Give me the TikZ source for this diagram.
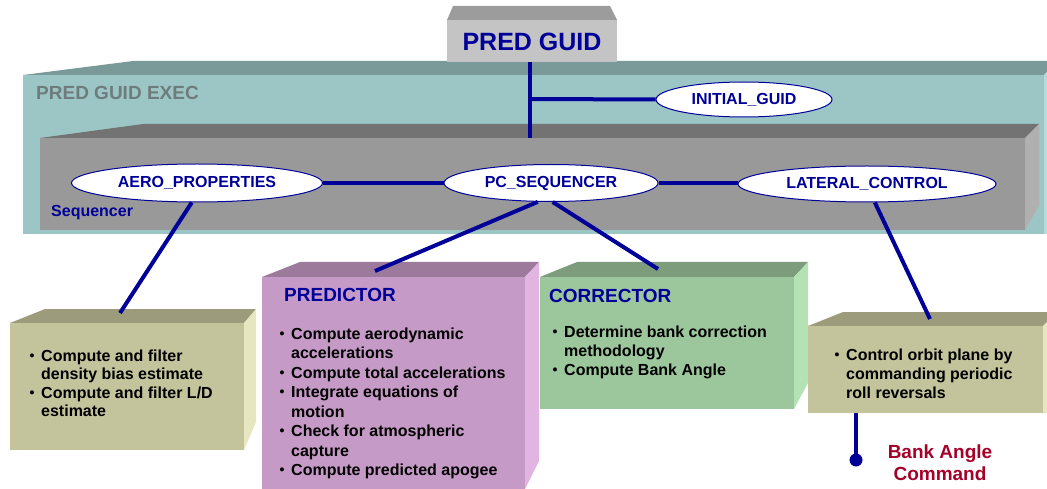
\documentclass[tikz,border=0pt]{standalone}
\usepackage{fontspec}
\setmainfont{Liberation Sans}
\usetikzlibrary{shapes.geometric}
\definecolor{navy}{HTML}{000099}
\definecolor{bankred}{HTML}{A50028}
\definecolor{execgray}{HTML}{6E7C7C}
\definecolor{tealfront}{HTML}{9CC6C6}
\definecolor{tealtop}{HTML}{7A9A9A}
\definecolor{tealside}{HTML}{B6DADA}
\definecolor{grayfront}{HTML}{999999}
\definecolor{graytop}{HTML}{737373}
\definecolor{grayside}{HTML}{B0B0B0}
\definecolor{pgfront}{HTML}{C4C4C4}
\definecolor{pgtop}{HTML}{9C9C9C}
\definecolor{olivefront}{HTML}{C4C49C}
\definecolor{olivetop}{HTML}{9C9C7C}
\definecolor{oliveside}{HTML}{E6E6C0}
\definecolor{purpfront}{HTML}{C69AC6}
\definecolor{purptop}{HTML}{9C7A9C}
\definecolor{purpside}{HTML}{E2B4E2}
\definecolor{grnfront}{HTML}{9CC69C}
\definecolor{grntop}{HTML}{7C9C7C}
\definecolor{grnside}{HTML}{B4E2B4}
\newcommand\fs[2]{\fontsize{#1}{#2}\selectfont}
\tikzset{
  oval/.style={ellipse, draw=navy, line width=1pt, fill=white, inner sep=0pt,
    text=navy, font=\bfseries\fs{16}{19}},
  link/.style={draw=navy, line width=4pt},
  front/.style={rectangle, inner sep=0pt, anchor=north west},
  bullets/.style={anchor=base west, inner sep=0pt, font=\bfseries\fs{16}{19.5}},
  title/.style={anchor=west, inner sep=0pt, text=navy, font=\bfseries\fs{19}{22}},
}
\newcommand\bitem{\makebox[12pt][l]{\hspace{0.5pt}\raisebox{0.6pt}{\fs{14}{14}\textbullet}}}
\begin{document}
\begin{tikzpicture}[x=1pt,y=-1pt]
\useasboundingbox (0,0) rectangle (1047,489);

% PRED GUID EXEC box
\fill[tealtop] (23,75) -- (133,61) -- (1047,61) -- (1047,72) -- (1044,75) -- cycle;
\node[front, fill=tealfront, minimum width=1021pt, minimum height=159pt] (exec) at (23,75) {};
\fill[tealside] (1044,75) -- (1047,72) -- (1047,234) -- (1044,234) -- cycle;
\node[anchor=west, inner sep=0pt, text=execgray, font=\bfseries\fs{19}{22}] (execlabel) at (36,93) {PRED GUID EXEC};

% Sequencer box
\fill[graytop] (40,138) -- (143,124) -- (1039,124) -- (1025,138) -- cycle;
\node[front, fill=grayfront, minimum width=985pt, minimum height=92pt] (seq) at (40,138) {};
\fill[grayside] (1025,138) -- (1039,124) -- (1039,206) -- (1025,230) -- cycle;
\node[anchor=west, inner sep=0pt, text=navy, font=\bfseries\fs{16}{19}] (seqlabel) at (51,213) {Sequencer};

% PRED GUID box
\fill[pgtop] (447,20) -- (453,6) -- (610,6) -- (617,20) -- cycle;
\node[front, fill=pgfront, minimum width=170pt, minimum height=42pt] (pgbox) at (447,20) {};
\node[inner sep=0pt, text=navy, font=\bfseries\fs{25}{29}] (predguid) at (532,42) {PRED GUID};

% ellipses
\node[oval, minimum width=251pt, minimum height=38pt] (aero) at (197,183) {AERO\_PROPERTIES};
\node[oval, minimum width=214pt, minimum height=37pt] (pcseq) at (551,183) {PC\_SEQUENCER};
\node[oval, minimum width=258pt, minimum height=36pt] (lateral) at (867,184) {LATERAL\_CONTROL};
\node[oval, minimum width=176pt, minimum height=35pt] (initial) at (744,99.5) {INITIAL\_GUID};

% upper connectors
\coordinate (junc) at (530,99);
\coordinate (seqtop) at (530,138);
\draw[link] (junc |- pgbox.south) -- (seqtop);
\draw[link] (junc) -- (initial.west);
\draw[link, line width=4.5pt] (aero.east) -- (pcseq.west);
\draw[link, line width=4.5pt] (pcseq.east) -- (pcseq.east -| lateral.west);

% left olive box
\fill[olivetop] (10,323) -- (45,309) -- (256,309) -- (244,323) -- cycle;
\node[front, fill=olivefront, minimum width=234pt, minimum height=127pt] (aerobox) at (10,323) {};
\fill[oliveside] (244,323) -- (256,309) -- (256,422) -- (244,450) -- cycle;
\node[bullets, font=\bfseries\fs{16}{18.5}] (aerotext) at (29,361) {\begin{tabular}[t]{@{}l@{}}
\bitem Compute and filter\\
\hspace{12pt}density bias estimate\\
\bitem Compute and filter L/D\\
\hspace{12pt}estimate
\end{tabular}};

% predictor box
\fill[purptop] (262,277) -- (300,262) -- (539,262) -- (525,277) -- cycle;
\node[front, fill=purpfront, minimum width=263pt, minimum height=215pt] (predbox) at (262,277) {};
\fill[purpside] (525,277) -- (539,262) -- (539,461) -- (525,489) -- cycle;
\node[title] (predtitle) at (284,295) {PREDICTOR};
\node[bullets] (predtext) at (279,339) {\begin{tabular}[t]{@{}l@{}}
\bitem Compute aerodynamic\\
\hspace{12pt}accelerations\\
\bitem Compute total accelerations\\
\bitem Integrate equations of\\
\hspace{12pt}motion\\
\bitem Check for atmospheric\\
\hspace{12pt}capture\\
\bitem Compute predicted apogee
\end{tabular}};

% corrector box
\fill[grntop] (540,277) -- (577,262) -- (808,262) -- (794,277) -- cycle;
\node[front, fill=grnfront, minimum width=254pt, minimum height=132pt] (corrbox) at (540,277) {};
\fill[grnside] (794,277) -- (808,262) -- (808,383) -- (794,409) -- cycle;
\node[title] (corrtitle) at (549,296) {CORRECTOR};
\node[bullets, font=\bfseries\fs{16}{19}] (corrtext) at (552,337) {\begin{tabular}[t]{@{}l@{}}
\bitem Determine bank correction\\
\hspace{12pt}methodology\\
\bitem Compute Bank Angle
\end{tabular}};

% lateral box
\fill[olivetop] (808,326) -- (843,312) -- (1047,312) -- (1047,322) -- (1043,326) -- cycle;
\node[front, fill=olivefront, minimum width=235pt, minimum height=87pt] (latbox) at (808,326) {};
\fill[oliveside] (1043,326) -- (1047,322) -- (1047,413) -- (1043,413) -- cycle;
\node[bullets, font=\bfseries\fs{16}{19}] (lattext) at (834,360) {\begin{tabular}[t]{@{}l@{}}
\bitem Control orbit plane by\\
\hspace{12pt}commanding periodic\\
\hspace{12pt}roll reversals
\end{tabular}};

% lower connectors
\coordinate (aeroin) at (120,313);
\coordinate (predin) at (375,271);
\coordinate (corrin) at (658,269);
\coordinate (latin) at (930,319);
\draw[link] (aero.255) -- (aeroin);
\draw[link] (pcseq.235) -- (predin);
\draw[link] (pcseq.275) -- (corrin);
\draw[link] (lateral.293) -- (latin);

% bank angle command
\coordinate (bankdot) at (856,460);
\draw[link] (bankdot |- latbox.south) -- (bankdot);
\fill[navy] (bankdot) circle (6.5pt);
\node[inner sep=0pt, align=center, text=bankred, font=\bfseries\fs{19}{22}] (bank) at (940,463) {Bank Angle\\Command};
\end{tikzpicture}
\end{document}
